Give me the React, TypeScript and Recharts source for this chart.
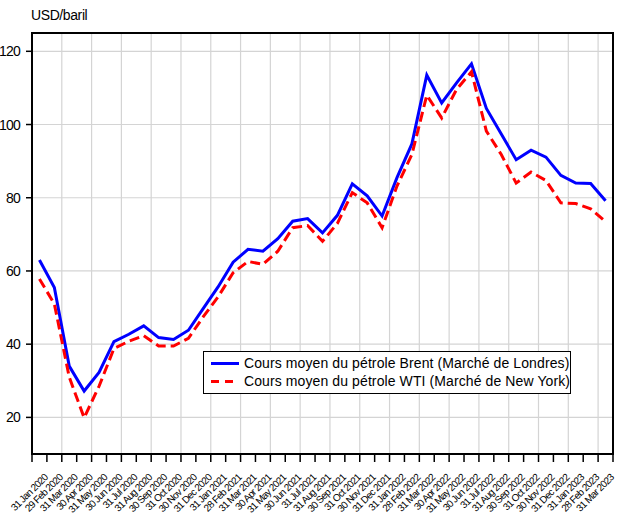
import { LineChart, Line, XAxis, YAxis, CartesianGrid, Legend } from "recharts";

const MONTHS = [
  "31 Jan 2020", "29 Feb 2020", "31 Mar 2020", "30 Apr 2020", "31 May 2020", "30 Jun 2020",
  "31 Jul 2020", "31 Aug 2020", "30 Sep 2020", "31 Oct 2020", "30 Nov 2020", "31 Dec 2020",
  "31 Jan 2021", "28 Feb 2021", "31 Mar 2021", "30 Apr 2021", "31 May 2021", "30 Jun 2021",
  "31 Jul 2021", "31 Aug 2021", "30 Sep 2021", "31 Oct 2021", "30 Nov 2021", "31 Dec 2021",
  "31 Jan 2022", "28 Feb 2022", "31 Mar 2022", "30 Apr 2022", "31 May 2022", "30 Jun 2022",
  "31 Jul 2022", "31 Aug 2022", "30 Sep 2022", "31 Oct 2022", "30 Nov 2022", "31 Dec 2022",
  "31 Jan 2023", "28 Feb 2023", "31 Mar 2023",
];

const BRENT = [
  63.0, 55.5, 34.0, 27.2, 32.3, 40.7, 42.7, 45.0, 41.8, 41.3, 43.8, 49.8,
  55.7, 62.4, 65.9, 65.4, 68.8, 73.6, 74.3, 70.4, 75.2, 83.8, 80.5, 75.0,
  85.5, 94.7, 113.5, 105.9, 111.4, 116.6, 104.4, 97.4, 90.4, 93.0, 91.1, 86.1,
  84.0, 83.9, 79.2,
];

const WTI = [
  57.8, 51.0, 31.0, 19.9, 28.5, 38.8, 40.8, 42.3, 39.5, 39.5, 41.6, 47.5,
  53.0, 59.5, 62.6, 61.8, 65.4, 71.8, 72.4, 68.1, 73.0, 81.4, 78.6, 71.8,
  83.2, 91.8, 108.0, 101.8, 109.6, 114.4, 98.2, 91.8, 84.0, 87.0, 84.7, 78.6,
  78.4, 77.0, 73.5,
];

const Y_TICKS = [20, 40, 60, 80, 100, 120];

const SERIES = [
  { key: "brent", name: "Cours moyen du pétrole Brent (Marché de Londres)", color: "#0000ff", dash: undefined },
  { key: "wti", name: "Cours moyen du pétrole WTI (Marché de New York)", color: "#ff0000", dash: "10 5" },
];

const rows = MONTHS.map((m, i) => ({ month: m, brent: BRENT[i], wti: WTI[i] }));

const FONT = "'Liberation Sans', Arial, sans-serif";
const W = 625;
const H = 515;
const M = { top: 33, right: 12, bottom: 0, left: 0 };
const Y_W = 32;
const X_H = 61;
const PLOT_W = W - M.right - Y_W;
const PLOT_H = H - X_H - M.top;
const AXIS_Y = H - X_H;
const BAND = PLOT_W / MONTHS.length;

function XTick(props: any) {
  const { x, payload, index } = props;
  const left = x - BAND / 2;
  return (
    <g>
      <line x1={left} x2={left} y1={AXIS_Y} y2={AXIS_Y + 8} stroke="#000" strokeWidth={1.5} />
      {index === MONTHS.length - 1 && (
        <line x1={x + BAND / 2} x2={x + BAND / 2} y1={AXIS_Y} y2={AXIS_Y + 8} stroke="#000" strokeWidth={1.5} />
      )}
      <text
        transform={`translate(${x + 9},${AXIS_Y + 24}) rotate(-45)`}
        textAnchor="end"
        fontSize={10}
        letterSpacing={-0.7}
        fontFamily={FONT}
        fill="#000"
      >
        {payload.value}
      </text>
    </g>
  );
}

function YTick(props: any) {
  const { y, payload } = props;
  return (
    <text x={20} y={y + 5} textAnchor="end" fontSize={14} letterSpacing={-0.8} fontFamily={FONT} fill="#000">
      {payload.value}
    </text>
  );
}

function LegendBox() {
  return (
    <div
      style={{
        width: 368,
        boxSizing: "border-box",
        border: "1.5px solid #000",
        background: "#fff",
        padding: "3px 0 3px 6px",
        fontFamily: FONT,
        fontSize: 14,
        letterSpacing: 0.1,
        lineHeight: "17.5px",
        color: "#000",
      }}
    >
      {SERIES.map((s) => (
        <div key={s.key} style={{ display: "flex", alignItems: "center", whiteSpace: "nowrap" }}>
          <svg width={34} height={17} style={{ flex: "none" }}>
            <line x1={1} x2={29} y1={8.5} y2={8.5} stroke={s.color} strokeWidth={3} strokeDasharray={s.dash ? "8 6" : undefined} />
          </svg>
          <span>{s.name}</span>
        </div>
      ))}
    </div>
  );
}

export default function App() {
  return (
    <div style={{ position: "absolute", left: 0, top: 0, width: W, height: H, background: "#fff", fontFamily: FONT }}>
      <div style={{ position: "absolute", left: 31, top: 7, fontSize: 14, lineHeight: "16px", letterSpacing: -0.4 }}>
        USD/baril
      </div>
      <LineChart width={W} height={H} data={rows} margin={M}>
        <CartesianGrid
          stroke="#d4d4d4"
          strokeWidth={1.2}
          verticalCoordinatesGenerator={({ offset }: any) =>
            MONTHS.map((_, k) => k)
              .filter((k) => k > 0 && k % 2 === 0)
              .map((k) => offset.left + (offset.width * k) / MONTHS.length)
          }
        />
        <XAxis
          dataKey="month"
          scale="band"
          interval={0}
          height={X_H}
          tickLine={false}
          axisLine={{ stroke: "#000", strokeWidth: 2 }}
          tick={<XTick />}
        />
        <YAxis
          width={Y_W}
          domain={[10, 125]}
          ticks={Y_TICKS}
          interval={0}
          tickSize={6}
          tickLine={{ stroke: "#000", strokeWidth: 1.5 }}
          axisLine={{ stroke: "#000", strokeWidth: 2 }}
          tick={<YTick />}
        />
        <Legend
          layout="horizontal"
          align="center"
          verticalAlign="middle"
          content={() => <LegendBox />}
          wrapperStyle={{ position: "absolute", left: 203, top: 351, width: 368, height: "auto", bottom: "auto" }}
        />
        {SERIES.map((s) => (
          <Line
            key={s.key}
            dataKey={s.key}
            name={s.name}
            stroke={s.color}
            strokeWidth={3}
            strokeDasharray={s.dash}
            dot={false}
            activeDot={false}
            isAnimationActive={false}
          />
        ))}
      </LineChart>
      <div
        style={{
          position: "absolute",
          left: Y_W - 1,
          top: M.top - 1,
          width: PLOT_W + 2,
          height: PLOT_H + 2,
          boxSizing: "border-box",
          border: "2px solid #000",
          pointerEvents: "none",
        }}
      />
    </div>
  );
}
